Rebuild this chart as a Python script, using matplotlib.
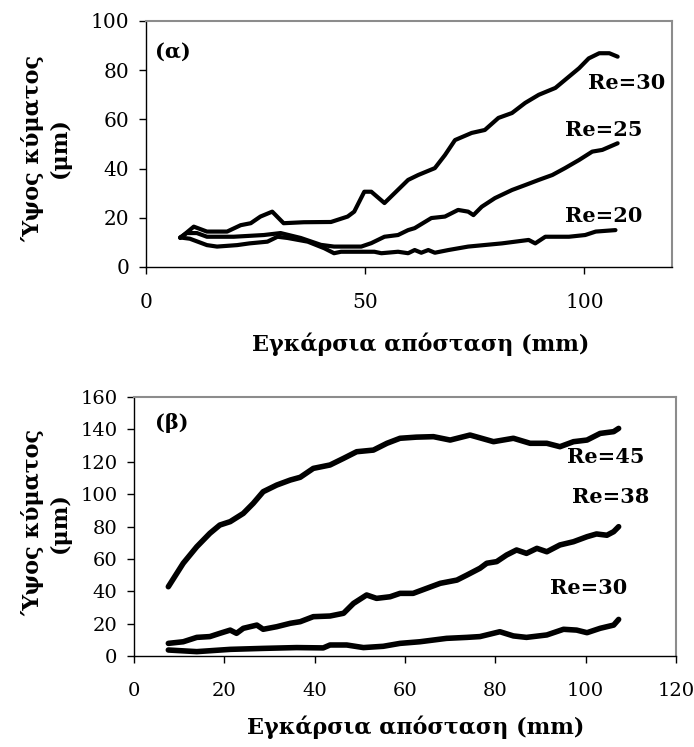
import matplotlib
matplotlib.use("Agg")
import matplotlib.pyplot as plt

plt.rcParams['font.family'] = ['DejaVu Serif']

# ---- Panel (α) data ----
a_re30_x = [7.8, 10.9, 13.9, 18.5, 21.6, 23.9, 26.1, 28.8, 31.4, 36.0, 42.2, 46.0, 47.5, 49.8,
            51.4, 54.4, 56.7, 59.8, 62.1, 65.9, 68.2, 70.5, 74.3, 77.3, 80.4, 83.5, 86.5,
            89.6, 93.4, 96.5, 98.8, 101.0, 103.4, 105.7, 107.6]
a_re30_y = [11.8, 16.4, 14.4, 14.4, 17.0, 17.8, 20.5, 22.5, 17.8, 18.2, 18.3, 20.5, 22.5, 30.6,
            30.6, 26.0, 30.0, 35.4, 37.4, 40.2, 45.5, 51.6, 54.5, 55.7, 60.6, 62.6, 66.7,
            70.0, 72.8, 77.4, 80.8, 84.8, 86.9, 86.9, 85.5]

a_re25_x = [7.8, 9.3, 11.6, 13.9, 20.0, 26.9, 30.7, 35.3, 39.9, 42.9, 49.1, 51.4, 54.4, 57.5,
            59.8, 61.3, 65.1, 68.2, 71.2, 73.5, 74.7, 76.6, 79.6, 83.5, 86.5, 89.6, 92.7,
            95.6, 98.8, 101.8, 104.1, 107.6]
a_re25_y = [12.0, 13.8, 13.8, 12.3, 12.3, 13.0, 13.8, 11.8, 9.0, 8.3, 8.3, 9.7, 12.3, 13.0,
            15.0, 15.8, 19.9, 20.5, 23.2, 22.5, 21.1, 24.5, 28.0, 31.3, 33.3, 35.4, 37.4,
            40.2, 43.5, 46.9, 47.6, 50.3]

a_re20_x = [7.8, 10.0, 13.9, 16.2, 20.8, 23.6, 27.7, 30.0, 32.3, 36.9, 40.7, 42.9, 44.5, 52.1,
            53.7, 57.5, 59.8, 61.3, 62.8, 64.4, 65.9, 69.0, 73.5, 81.2, 87.3, 88.8, 91.1,
            96.5, 100.2, 102.6, 107.1]
a_re20_y = [12.0, 11.5, 8.9, 8.3, 8.9, 9.6, 10.3, 12.3, 11.8, 10.3, 7.6, 5.6, 6.2, 6.2,
            5.6, 6.2, 5.6, 6.9, 5.8, 6.9, 5.8, 6.9, 8.3, 9.6, 11.0, 9.6, 12.3,
            12.3, 13.0, 14.4, 15.0]

# ---- Panel (β) data ----
b_re45_x = [7.6, 10.9, 13.9, 16.8, 19.0, 21.3, 24.2, 26.4, 28.6, 31.6, 34.6, 36.8, 39.7, 43.4,
            46.4, 49.3, 53.0, 56.0, 58.9, 62.5, 66.3, 70.0, 74.4, 79.6, 84.0, 87.7, 91.4,
            94.3, 97.3, 100.3, 103.2, 106.2, 107.3]
b_re45_y = [42.8, 57.3, 67.5, 75.8, 80.9, 83.0, 88.1, 94.3, 101.5, 105.6, 108.7, 110.4, 115.9,
            118.0, 122.1, 126.2, 127.2, 131.4, 134.5, 135.2, 135.5, 133.4, 136.5, 132.4,
            134.5, 131.4, 131.4, 129.3, 132.4, 133.4, 137.5, 138.6, 140.6]

b_re38_x = [7.6, 10.9, 13.9, 16.8, 19.0, 21.3, 22.7, 24.2, 27.2, 28.6, 31.6, 34.6, 36.8, 39.7,
            43.4, 46.4, 48.6, 51.5, 53.7, 56.7, 58.9, 61.8, 64.8, 67.8, 71.5, 73.7, 76.6,
            78.1, 80.3, 82.5, 84.7, 86.9, 89.2, 91.4, 94.3, 97.3, 100.3, 102.4, 104.7,
            106.2, 107.3]
b_re38_y = [7.8, 8.8, 11.5, 12.0, 14.0, 16.0, 14.0, 17.1, 19.1, 16.5, 18.1, 20.2, 21.2, 24.3,
            24.7, 26.4, 32.5, 37.7, 35.6, 36.6, 38.7, 38.7, 41.8, 44.9, 46.9, 50.0, 54.2,
            57.3, 58.3, 62.4, 65.5, 63.4, 66.5, 64.4, 68.6, 70.6, 73.7, 75.4, 74.6,
            76.8, 79.9]

b_re30_x = [7.6, 13.9, 21.3, 28.6, 36.0, 41.9, 43.4, 47.1, 50.8, 55.2, 58.9, 63.3, 69.2, 73.7,
            76.6, 81.0, 84.0, 86.9, 91.4, 95.1, 98.0, 100.3, 103.2, 106.2, 107.3]
b_re30_y = [3.7, 2.7, 4.1, 4.7, 5.2, 5.0, 6.8, 6.8, 5.2, 6.0, 7.8, 8.8, 10.9, 11.5,
            12.0, 15.0, 12.4, 11.5, 13.0, 16.5, 16.0, 14.4, 17.1, 19.1, 22.6]

a_xticks = [0, 50, 100]
a_yticks = [0, 20, 40, 60, 80, 100]
b_xticks = [0, 20, 40, 60, 80, 100, 120]
b_yticks = [0, 20, 40, 60, 80, 100, 120, 140, 160]

ylabel = "Ύψος κύματος\n(μm)"
xlabel = "Εγκάρσια απόσταση (mm)"

W, H = 694, 747
fig = plt.figure(figsize=(W / 100, H / 100), dpi=100)


def frac(x0, y0, x1, y1):
    return [x0 / W, 1 - y1 / H, (x1 - x0) / W, (y1 - y0) / H]


def style(ax, xticks, yticks, xlim, ylim, fs):
    ax.set_xlim(*xlim)
    ax.set_ylim(*ylim)
    ax.set_xticks(xticks)
    ax.set_yticks(yticks)
    for s in ['top', 'right']:
        ax.spines[s].set_color('#8c8c8c')
        ax.spines[s].set_linewidth(1.5)
    for s in ['left', 'bottom']:
        ax.spines[s].set_color('black')
        ax.spines[s].set_linewidth(1.0)
    ax.tick_params(direction='out', length=5, width=1, labelsize=fs, color='black')
    ax.tick_params(axis='x', pad=14)
    ax.tick_params(axis='y', pad=7)


axA = fig.add_axes(frac(146, 21, 672, 267))
style(axA, a_xticks, a_yticks, (0, 120), (0, 100), 14.5)
lwA = 3.0
for xs, ys in [(a_re30_x, a_re30_y), (a_re25_x, a_re25_y), (a_re20_x, a_re20_y)]:
    axA.plot(xs, ys, color='black', lw=lwA, solid_capstyle='round', solid_joinstyle='round')
tkw = dict(fontsize=15, fontweight='bold', va='center', ha='left')
axA.text(2.1, 87.4, "(α)", **tkw)
axA.text(100.8, 74.8, "Re=30", **tkw)
axA.text(95.6, 55.7, "Re=25", **tkw)
axA.text(95.6, 20.7, "Re=20", **tkw)

axB = fig.add_axes(frac(134, 397, 676, 656))
style(axB, b_xticks, b_yticks, (0, 120), (0, 160), 14)
lwB = 4.0
for xs, ys in [(b_re45_x, b_re45_y), (b_re38_x, b_re38_y), (b_re30_x, b_re30_y)]:
    axB.plot(xs, ys, color='black', lw=lwB, solid_capstyle='round', solid_joinstyle='round')
axB.text(4.6, 143.9, "(β)", **tkw)
axB.text(95.8, 122.9, "Re=45", **tkw)
axB.text(96.9, 98.2, "Re=38", **tkw)
axB.text(92.2, 42.0, "Re=30", **tkw)

lab = dict(fontsize=16, fontweight='bold', ha='center', va='center')
fig.text(46 / W, 1 - 148 / H, ylabel, rotation=90, multialignment='center', linespacing=1.3, **lab)
fig.text(46 / W, 1 - 523 / H, ylabel, rotation=90, multialignment='center', linespacing=1.3, **lab)
fig.text(421 / W, 1 - 344 / H, xlabel, **lab)
fig.text(416 / W, 1 - 727 / H, xlabel, **lab)

fig.savefig("out.png", dpi=100)
